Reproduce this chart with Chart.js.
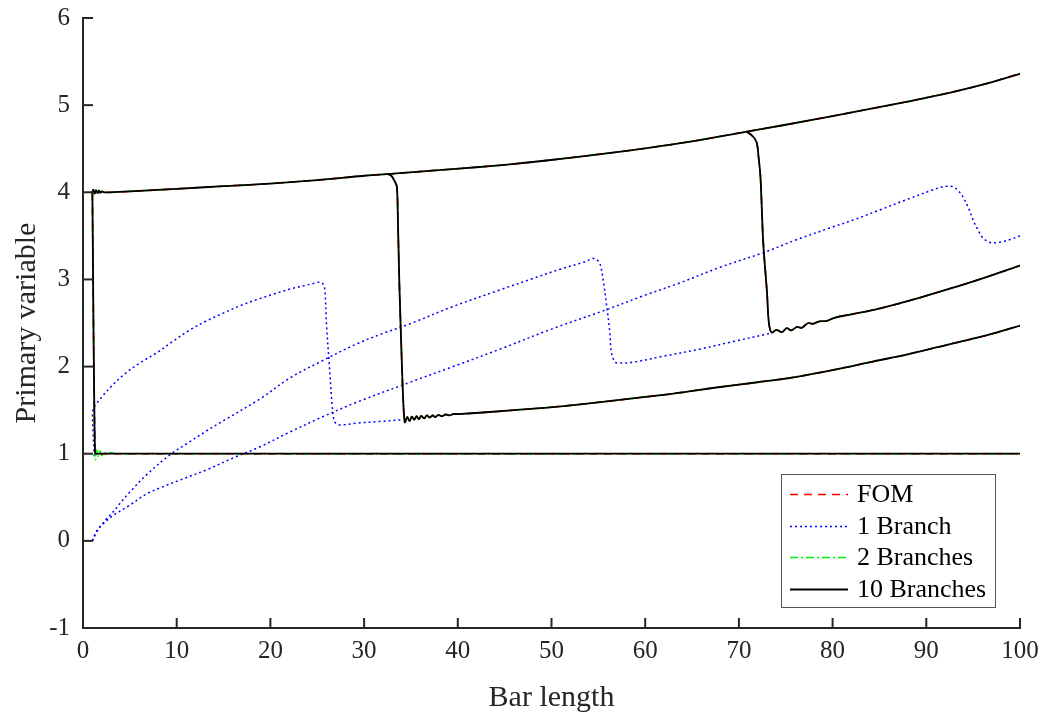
<!DOCTYPE html>
<html>
<head>
<meta charset="utf-8">
<script src="https://cdn.jsdelivr.net/npm/chart.js@4/dist/chart.umd.min.js"></script>
<style>
html,body{margin:0;padding:0;background:#fff;}
canvas{display:block;}
</style>
</head>
<body>
<canvas id="c" width="1047" height="718"></canvas>
<script>
// ---------- tick labels ----------
const xTicks = [0, 10, 20, 30, 40, 50, 60, 70, 80, 90, 100];
const yTicks = [-1, 0, 1, 2, 3, 4, 5, 6];

// ---------- upper branch (shared by FOM / 2 / 10 branches) ----------
const upperX = [0.95, 1.1, 1.25, 1.4, 1.55, 1.7, 1.85, 2.0, 2.3, 3, 5, 10, 15, 20, 25, 30, 32, 33.8, 38, 42.3, 46, 50.7, 55, 60, 65, 70, 75, 80, 84.4, 88, 90, 93, 96, 100];
const upperY = [3.99, 4.03, 3.985, 4.025, 3.99, 4.02, 3.995, 4.01, 4.0, 4.0, 4.01, 4.04, 4.07, 4.10, 4.14, 4.19, 4.205, 4.22, 4.255, 4.29, 4.325, 4.38, 4.435, 4.505, 4.585, 4.68, 4.775, 4.875, 4.965, 5.04, 5.085, 5.155, 5.235, 5.36];

// first jump down to 1 (10 branches / FOM)
const drop1X = [1.0, 1.04, 1.09, 1.15, 1.21, 1.27, 1.32, 1.6, 3, 100];
const drop1Y = [4.0, 3.5, 2.8, 2.1, 1.5, 1.08, 1.0, 1.0, 1.0, 1.0];

// first jump down to 1 (2 branches, with small overshoot)
const drop1GreenX = [1.0, 1.04, 1.09, 1.15, 1.21, 1.27, 1.32, 1.45, 1.6, 1.8, 2.0, 2.3, 2.6, 3.0, 3.5, 100];
const drop1GreenY = [4.0, 3.5, 2.8, 2.1, 1.5, 1.08, 0.93, 1.04, 0.97, 1.03, 0.98, 1.02, 0.99, 1.01, 1.0, 1.0];

// second jump (x ~ 33.5) and lower branch
const drop2X = [32.5, 32.9, 33.3, 33.5, 33.6, 33.76, 33.95, 34.1, 34.25, 34.35, 34.6, 34.85, 35.1, 35.35, 35.6, 35.85, 36.1, 36.4, 36.7, 37.0, 37.3, 37.6, 37.9, 38.3, 38.7, 39.1, 39.5, 40.0, 42.3, 46, 50.7, 55, 59.1, 63, 67.6, 72, 76, 80, 84.4, 88, 93, 96.5, 100];
const drop2Y = [4.21, 4.19, 4.12, 4.06, 3.72, 2.96, 2.3, 1.81, 1.45, 1.36, 1.42, 1.375, 1.425, 1.39, 1.43, 1.395, 1.435, 1.405, 1.44, 1.415, 1.44, 1.42, 1.445, 1.43, 1.45, 1.44, 1.455, 1.455, 1.47, 1.50, 1.54, 1.59, 1.64, 1.69, 1.76, 1.82, 1.88, 1.96, 2.06, 2.14, 2.27, 2.36, 2.47];

// third jump (x ~ 72.5) and middle branch
const drop3X = [70.8, 71.5, 71.9, 72.1, 72.3, 72.6, 73.0, 73.2, 73.5, 74.0, 74.6, 75.1, 75.6, 76.2, 76.7, 77.4, 77.9, 78.6, 79.4, 80.2, 82, 84.4, 88, 93, 96.5, 100];
const drop3Y = [4.70, 4.64, 4.57, 4.40, 4.18, 3.42, 2.85, 2.50, 2.39, 2.42, 2.395, 2.44, 2.415, 2.455, 2.445, 2.50, 2.49, 2.52, 2.525, 2.56, 2.60, 2.65, 2.75, 2.91, 3.03, 3.16];

// ---------- 1 Branch (blue dotted) ----------
const oneAX = [1.2, 1.08, 1.05, 1.4, 2.0, 2.9, 4.5, 6.2, 7.9, 9.6, 11.4, 13.1, 14.9, 16.8, 18.6, 20.3, 22.1, 23.7, 24.8, 25.3, 25.6, 25.8, 26.0, 26.3, 26.6, 26.8, 27.1, 27.6, 29.2, 31.6, 34.2];
const oneAY = [0.97, 1.25, 1.5, 1.57, 1.65, 1.76, 1.92, 2.05, 2.16, 2.29, 2.42, 2.52, 2.61, 2.70, 2.77, 2.83, 2.89, 2.93, 2.96, 2.97, 2.95, 2.89, 2.46, 2.00, 1.54, 1.38, 1.34, 1.33, 1.35, 1.37, 1.39];

const oneBX = [1.0, 1.4, 1.8, 2.5, 3.2, 4.1, 5.0, 6.8, 9.3, 11.3, 13.3, 15.0, 18.9, 22.1, 25.6, 29.2, 32, 34.9, 39.5, 44.5, 48, 51, 53.5, 54.4, 54.8, 55.2, 55.5, 55.9, 56.2, 56.4, 56.8, 57.3, 58.7, 62, 65.8, 69.5, 73.3];
const oneBY = [0, 0.09, 0.16, 0.25, 0.33, 0.45, 0.56, 0.76, 0.99, 1.13, 1.27, 1.38, 1.63, 1.87, 2.07, 2.26, 2.38, 2.49, 2.69, 2.88, 3.01, 3.12, 3.20, 3.24, 3.23, 3.17, 3.0, 2.69, 2.42, 2.16, 2.05, 2.04, 2.05, 2.12, 2.20, 2.29, 2.38];

const oneCX = [1.0, 1.5, 2.2, 3.2, 5.0, 6.8, 8.5, 10.4, 13.3, 16.0, 18.9, 22.1, 25.5, 29.2, 34.9, 39.5, 44.5, 50, 55.8, 60, 63.7, 68, 72.7, 76, 79.7, 82.4, 85.1, 88, 90.5, 91.6, 92.3, 92.9, 93.4, 93.9, 94.5, 95.0, 95.5, 96.0, 96.5, 97.0, 98, 99, 100];
const oneCY = [0, 0.12, 0.2, 0.29, 0.41, 0.54, 0.62, 0.70, 0.82, 0.95, 1.08, 1.25, 1.42, 1.59, 1.82, 2.0, 2.2, 2.43, 2.65, 2.82, 2.96, 3.14, 3.31, 3.45, 3.59, 3.69, 3.80, 3.92, 4.02, 4.06, 4.07, 4.06, 4.02, 3.95, 3.82, 3.68, 3.57, 3.48, 3.44, 3.42, 3.43, 3.46, 3.50];

// ---------- helpers ----------
function seg(xs, ys) { return xs.map((x, i) => ({x: x, y: ys[i]})); }

const FONT = '"Liberation Serif", "Times New Roman", Times, serif';
const AXIS = '#262626';
const legendOrder = ['FOM', '1 Branch', '2 Branches', '10 Branches'];

const styles = {
  '10 Branches': {borderColor: '#000000', borderWidth: 1.8, borderDash: [], order: 1},
  'FOM': {borderColor: '#ff0000', borderWidth: 1.6, borderDash: [8, 6], order: 2},
  '2 Branches': {borderColor: '#00ee00', borderWidth: 1.6, borderDash: [8, 3, 2, 3], order: 3},
  '1 Branch': {borderColor: '#0000ff', borderWidth: 1.5, borderDash: [2, 3], order: 4}
};

const seriesSegments = {
  '10 Branches': [seg(upperX, upperY), seg(drop1X, drop1Y), seg(drop2X, drop2Y), seg(drop3X, drop3Y)],
  'FOM': [seg(upperX, upperY), seg(drop1X, drop1Y), seg(drop2X, drop2Y), seg(drop3X, drop3Y)],
  '2 Branches': [seg(upperX, upperY), seg(drop1GreenX, drop1GreenY), seg(drop2X, drop2Y), seg(drop3X, drop3Y)],
  '1 Branch': [seg(oneAX, oneAY), seg(oneBX, oneBY), seg(oneCX, oneCY)]
};

const datasets = [];
Object.keys(seriesSegments).forEach(name => {
  seriesSegments[name].forEach(data => {
    datasets.push(Object.assign({label: name, data: data, tension: 0.35}, styles[name]));
  });
});

const inwardTicks = {
  id: 'inwardTicks',
  afterDraw(chart) {
    const {ctx} = chart;
    const xs = chart.scales.x, ys = chart.scales.y;
    ctx.save();
    ctx.strokeStyle = AXIS;
    ctx.lineWidth = 2;
    xs.ticks.forEach(t => {
      const px = xs.getPixelForValue(t.value);
      ctx.beginPath(); ctx.moveTo(px, xs.top); ctx.lineTo(px, xs.top - 10); ctx.stroke();
    });
    ys.ticks.forEach(t => {
      const py = ys.getPixelForValue(t.value);
      ctx.beginPath(); ctx.moveTo(ys.right, py); ctx.lineTo(ys.right + 10, py); ctx.stroke();
    });
    ctx.restore();
  }
};

const legendBox = {
  id: 'legendBox',
  afterDraw(chart) {
    const {ctx, chartArea} = chart;
    const w = 214, h = 133;
    const x0 = chartArea.right - 25 - w;
    const y0 = chartArea.bottom - 21 - h;
    ctx.save();
    ctx.fillStyle = '#fff';
    ctx.fillRect(x0, y0, w, h);
    ctx.strokeStyle = '#555';
    ctx.lineWidth = 1;
    ctx.strokeRect(x0 + 0.5, y0 + 0.5, w, h);
    legendOrder.forEach((name, i) => {
      const st = styles[name];
      const cy = Math.round(y0 + 20 + i * 31.5) + 0.5;
      ctx.strokeStyle = st.borderColor;
      ctx.lineWidth = st.borderWidth;
      ctx.setLineDash(st.borderDash);
      ctx.beginPath(); ctx.moveTo(x0 + 9, cy); ctx.lineTo(x0 + 67, cy); ctx.stroke();
      ctx.setLineDash([]);
      ctx.fillStyle = '#000';
      ctx.font = '26px ' + FONT;
      ctx.textBaseline = 'middle';
      ctx.textAlign = 'left';
      ctx.fillText(name, x0 + 76, cy + 1);
    });
    ctx.restore();
  }
};

new Chart(document.getElementById('c'), {
  type: 'line',
  data: {datasets: datasets},
  options: {
    responsive: false,
    animation: false,
    layout: {padding: {top: 18, right: 27, bottom: 0, left: 0}},
    elements: {point: {radius: 0, hoverRadius: 0}, line: {fill: false}},
    plugins: {legend: {display: false}, tooltip: {enabled: false}},
    events: [],
    scales: {
      x: {
        type: 'linear', min: 0, max: 100,
        afterBuildTicks: s => { s.ticks = xTicks.map(v => ({value: v})); },
        afterFit: s => { s.height = 90; s.paddingTop = 0; s.paddingBottom = 0; },
        ticks: {color: AXIS, font: {family: FONT, size: 25}, padding: 8, maxRotation: 0},
        grid: {display: false, drawTicks: false},
        border: {display: true, color: AXIS, width: 2},
        title: {display: true, text: 'Bar length', color: AXIS, font: {family: FONT, size: 30}, padding: {top: 0, bottom: 2}}
      },
      y: {
        type: 'linear', min: -1, max: 6,
        afterBuildTicks: s => { s.ticks = yTicks.map(v => ({value: v})); },
        afterFit: s => { s.width = 83; s.paddingTop = 0; s.paddingBottom = 0; },
        ticks: {color: AXIS, font: {family: FONT, size: 25}, padding: 13},
        grid: {display: false, drawTicks: false},
        border: {display: true, color: AXIS, width: 2},
        title: {display: true, text: 'Primary variable', color: AXIS, font: {family: FONT, size: 30}, padding: {top: 9, bottom: 0}}
      }
    }
  },
  plugins: [inwardTicks, legendBox]
});
</script>
</body>
</html>
